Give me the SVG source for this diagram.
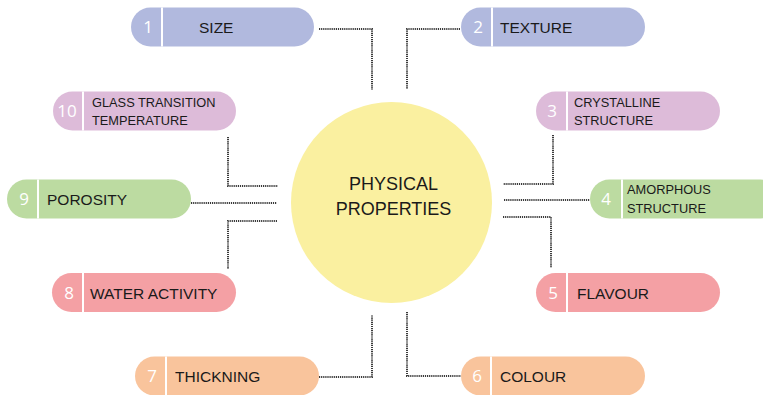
<svg xmlns="http://www.w3.org/2000/svg" width="763" height="395" viewBox="0 0 763 395">
  <style>
    .num { font-family: "Open Sans", "Liberation Sans", sans-serif; font-size: 17px; fill: #ffffff; text-anchor: middle; }
    .lbl { font-family: "Liberation Sans", Arial, sans-serif; font-size: 15.5px; fill: #1a1a1a; }
    .lbl2 { font-family: "Liberation Sans", Arial, sans-serif; font-size: 12.8px; fill: #1a1a1a; }
    .ctr { font-family: "Liberation Sans", Arial, sans-serif; font-size: 18px; fill: #1a1a1a; text-anchor: middle; }
    .div { stroke: #ffffff; stroke-width: 2; }
    .conn { fill: none; stroke: #3a3a3a; stroke-width: 2; stroke-dasharray: 1.2 0.9; }
    .blue { fill: #b1b9de; }
    .lilac { fill: #ddbbd9; }
    .green { fill: #bcdba1; }
    .red { fill: #f4a0a4; }
    .peach { fill: #f9c49c; }
  </style>

  <rect width="763" height="395" fill="#ffffff"/>

  <!-- dotted connectors -->
  <g id="connectors" class="conn">
    <polyline points="319,29 372,29 372,90"/>
    <polyline points="460,29 407,29 407,89"/>
    <polyline points="228,137 228,186 278,186"/>
    <polyline points="553,135 553,184 503,184"/>
    <polyline points="191,203 277,203"/>
    <polyline points="504,200 590,200"/>
    <polyline points="277,221 228,221 228,269"/>
    <polyline points="503,217 551,217 551,268"/>
    <polyline points="319,377 372,377 372,315"/>
    <polyline points="407,312 407,376 461,376"/>
  </g>

  <!-- centre -->
  <g id="center">
    <circle cx="391.5" cy="202.5" r="100.5" fill="#faf0a0"/>
    <text class="ctr" x="393.5" y="190">PHYSICAL</text>
    <text class="ctr" x="393.5" y="215">PROPERTIES</text>
  </g>

  <g id="node1">
    <rect class="blue" x="131" y="7.5" width="183" height="39" rx="19.5"/>
    <line class="div" x1="162" y1="7.5" x2="162" y2="46.5"/>
    <text class="num" x="148" y="33">1</text>
    <text class="lbl" x="199" y="33">SIZE</text>
  </g>

  <g id="node2">
    <rect class="blue" x="461" y="7.5" width="184" height="39" rx="19.5"/>
    <line class="div" x1="492" y1="7.5" x2="492" y2="46.5"/>
    <text class="num" x="478" y="33">2</text>
    <text class="lbl" x="500" y="33">TEXTURE</text>
  </g>

  <g id="node3">
    <rect class="lilac" x="536" y="91.5" width="184" height="39" rx="19.5"/>
    <line class="div" x1="567" y1="91.5" x2="567" y2="130.5"/>
    <text class="num" x="552" y="117">3</text>
    <text class="lbl2" x="574" y="107">CRYSTALLINE</text>
    <text class="lbl2" x="574" y="125">STRUCTURE</text>
  </g>

  <g id="node4">
    <rect class="green" x="590" y="179.5" width="190" height="39" rx="19.5"/>
    <line class="div" x1="622" y1="179.5" x2="622" y2="218.5"/>
    <text class="num" x="606" y="205">4</text>
    <text class="lbl2" x="627" y="194">AMORPHOUS</text>
    <text class="lbl2" x="627" y="213">STRUCTURE</text>
  </g>

  <g id="node5">
    <rect class="red" x="536" y="273" width="184" height="39" rx="19.5"/>
    <line class="div" x1="567" y1="273" x2="567" y2="312"/>
    <text class="num" x="553" y="298.5">5</text>
    <text class="lbl" x="577" y="298.5">FLAVOUR</text>
  </g>

  <g id="node6">
    <rect class="peach" x="461" y="356.5" width="184" height="39" rx="19.5"/>
    <line class="div" x1="491" y1="356.5" x2="491" y2="395.5"/>
    <text class="num" x="477" y="382">6</text>
    <text class="lbl" x="500" y="382">COLOUR</text>
  </g>

  <g id="node7">
    <rect class="peach" x="135" y="356.5" width="184" height="39" rx="19.5"/>
    <line class="div" x1="166" y1="356.5" x2="166" y2="395.5"/>
    <text class="num" x="152" y="382">7</text>
    <text class="lbl" x="175" y="382">THICKNING</text>
  </g>

  <g id="node8">
    <rect class="red" x="52" y="273" width="184" height="39" rx="19.5"/>
    <line class="div" x1="83" y1="273" x2="83" y2="312"/>
    <text class="num" x="69" y="298.5">8</text>
    <text class="lbl" x="90" y="298.5">WATER ACTIVITY</text>
  </g>

  <g id="node9">
    <rect class="green" x="7" y="179.5" width="184" height="39" rx="19.5"/>
    <line class="div" x1="38" y1="179.5" x2="38" y2="218.5"/>
    <text class="num" x="24" y="205">9</text>
    <text class="lbl" x="47" y="205">POROSITY</text>
  </g>

  <g id="node10">
    <rect class="lilac" x="53" y="91.5" width="183" height="39" rx="19.5"/>
    <line class="div" x1="83" y1="91.5" x2="83" y2="130.5"/>
    <text class="num" x="67" y="117">10</text>
    <text class="lbl2" x="92" y="107">GLASS TRANSITION</text>
    <text class="lbl2" x="92" y="125">TEMPERATURE</text>
  </g>
</svg>
